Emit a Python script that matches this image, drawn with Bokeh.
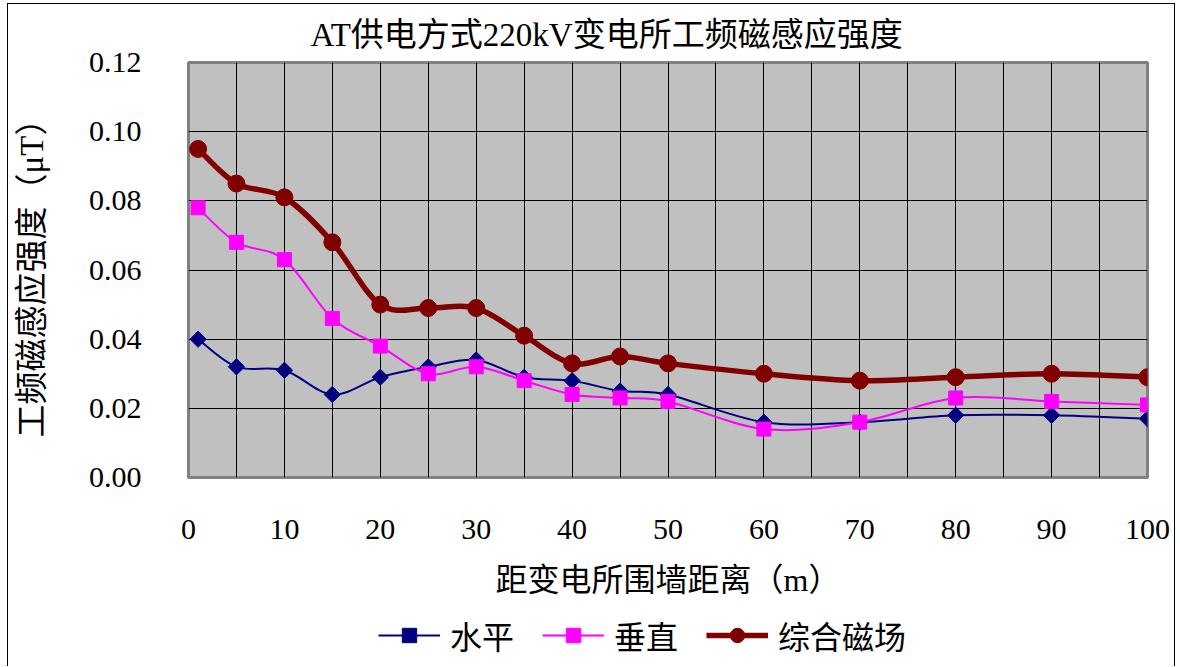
import numpy as np
from bokeh.plotting import figure
from bokeh.layouts import column
from bokeh.models import (ColumnDataSource, Legend, LegendItem, SingleIntervalTicker,
                          NumeralTickFormatter, Range1d)
from bokeh.embed import file_html
from bokeh.resources import INLINE

# ---- data ----
distance = [1, 5, 10, 15, 20, 25, 30, 35, 40, 45, 50, 60, 70, 80, 90, 100]
horizontal = [0.040, 0.032, 0.031, 0.024, 0.029, 0.032, 0.034, 0.029, 0.028, 0.025,
              0.024, 0.016, 0.016, 0.018, 0.018, 0.017]
vertical = [0.078, 0.068, 0.063, 0.046, 0.038, 0.030, 0.032, 0.028, 0.024, 0.023,
            0.022, 0.014, 0.016, 0.023, 0.022, 0.021]
combined = [0.095, 0.085, 0.081, 0.068, 0.050, 0.049, 0.049, 0.041, 0.033, 0.035,
            0.033, 0.030, 0.028, 0.029, 0.030, 0.029]
series_names = ["水平", "垂直", "综合磁场"]
title_text = "AT供电方式220kV变电所工频磁感应强度"
x_title = "距变电所围墙距离（m）"
y_title = "工频磁感应强度（μT）"

CJK = "Noto Sans CJK SC"
SERIF = "Liberation Serif"
MIXED = "Liberation Serif, Noto Sans CJK SC"


def smooth_source(xs, ys, t=1.0 / 6.0):
    """Bezier control points (Excel-like smoothing) for each data segment."""
    x = np.asarray(xs, float)
    y = np.asarray(ys, float)
    xp = np.concatenate([[x[0]], x, [x[-1]]])
    yp = np.concatenate([[y[0]], y, [y[-1]]])
    n = len(x)
    d = dict(x0=[], y0=[], x1=[], y1=[], cx0=[], cy0=[], cx1=[], cy1=[])
    for i in range(n - 1):
        j = i + 1
        d["x0"].append(x[i]); d["y0"].append(y[i])
        d["x1"].append(x[i + 1]); d["y1"].append(y[i + 1])
        d["cx0"].append(x[i] + t * (xp[j + 1] - xp[j - 1]))
        d["cy0"].append(y[i] + t * (yp[j + 1] - yp[j - 1]))
        d["cx1"].append(x[i + 1] - t * (xp[j + 2] - xp[j]))
        d["cy1"].append(y[i + 1] - t * (yp[j + 2] - yp[j]))
    return ColumnDataSource(d)


p = figure(width=1166, height=610,
           x_range=Range1d(0, 100), y_range=Range1d(0, 0.12),
           output_backend="svg", toolbar_location=None,
           min_border_left=180, min_border_right=27,
           min_border_top=56, min_border_bottom=137,
           background_fill_color="#C0C0C0", border_fill_color="white")
p.outline_line_color = "#808080"
p.outline_line_width = 3

# title
p.title.text = title_text
p.title.text_font = MIXED
p.title.text_font_size = "33px"
p.title.text_font_style = "normal"
p.title.text_color = "black"
p.title.align = "left"
p.title.offset = 122
p.title.standoff = 20

# axes
p.xaxis.ticker = SingleIntervalTicker(interval=10)
p.yaxis.ticker = SingleIntervalTicker(interval=0.02)
p.yaxis.formatter = NumeralTickFormatter(format="0.00")
for ax in (p.xaxis, p.yaxis):
    ax.axis_line_color = None
    ax.major_tick_line_color = None
    ax.minor_tick_line_color = None
    ax.major_label_text_font = SERIF
    ax.major_label_text_font_size = "30px"
    ax.major_label_text_color = "black"
    ax.axis_label_text_font = MIXED
    ax.axis_label_text_font_style = "normal"
    ax.axis_label_text_color = "black"
p.xaxis.axis_label_text_font_size = "32px"
p.yaxis.axis_label_text_font_size = "33px"
p.xaxis.axis_label = x_title
p.yaxis.axis_label = y_title
p.xaxis.major_label_standoff = 36
p.xaxis.axis_label_standoff = 20
p.yaxis.major_label_standoff = 41
p.yaxis.axis_label_standoff = 36

# grid
p.xgrid.ticker = SingleIntervalTicker(interval=5)
p.ygrid.ticker = SingleIntervalTicker(interval=0.02)
for g in (p.xgrid, p.ygrid):
    g.grid_line_color = "black"
    g.grid_line_width = 1
    g.grid_line_alpha = 1.0

# legend strip (separate figure so the legend is not clipped by the plot frame)
pl = figure(width=1166, height=52, x_range=Range1d(0, 1), y_range=Range1d(0, 1),
            output_backend="svg", toolbar_location=None,
            x_axis_location=None, y_axis_location=None,
            min_border_left=0, min_border_right=0, min_border_top=0, min_border_bottom=0,
            background_fill_color="white", border_fill_color="white")
pl.outline_line_color = None
pl.grid.visible = False

# series
styles = [
    dict(ys=horizontal, color="#000080", width=2, marker="square", size=11.5, angle=np.pi / 4),
    dict(ys=vertical, color="#FF00FF", width=2, marker="square", size=14, angle=0),
    dict(ys=combined, color="#800000", width=5.5, marker="circle", size=17, angle=0),
]
items = []
for name, st in zip(series_names, styles):
    src = smooth_source(distance, st["ys"])
    pts = ColumnDataSource(dict(x=distance, y=st["ys"]))
    line_kw = dict(x0="x0", y0="y0", x1="x1", y1="y1", cx0="cx0", cy0="cy0",
                   cx1="cx1", cy1="cy1", source=src,
                   line_color=st["color"], line_width=st["width"])
    mark_kw = dict(x="x", y="y", source=pts, marker=st["marker"], size=st["size"],
                   angle=st["angle"], fill_color=st["color"], line_color=st["color"])
    p.bezier(**line_kw)
    p.scatter(**mark_kw)
    # legend proxies (hidden) in the legend strip
    lb = pl.bezier(**line_kw, visible=False)
    ls = pl.scatter(**mark_kw, visible=False)
    items.append(LegendItem(label=name, renderers=[lb, ls]))

legend = Legend(items=items, orientation="horizontal", location=(190, 8),
                glyph_width=62, glyph_height=36, label_height=36,
                label_standoff=10, spacing=28,
                padding=0, margin=0, border_line_color=None,
                background_fill_alpha=0, inactive_fill_alpha=0,
                label_text_font=CJK, label_text_font_size="32px",
                label_text_color="black")
pl.add_layout(legend)

layout = column(p, pl, spacing=0,
                styles={"margin-left": "7px", "margin-top": "3px",
                        "border-left": "1.5px solid black",
                        "border-right": "1.5px solid black",
                        "border-top": "1.5px solid black"})

open("out.html", "w").write(file_html(layout, INLINE))
